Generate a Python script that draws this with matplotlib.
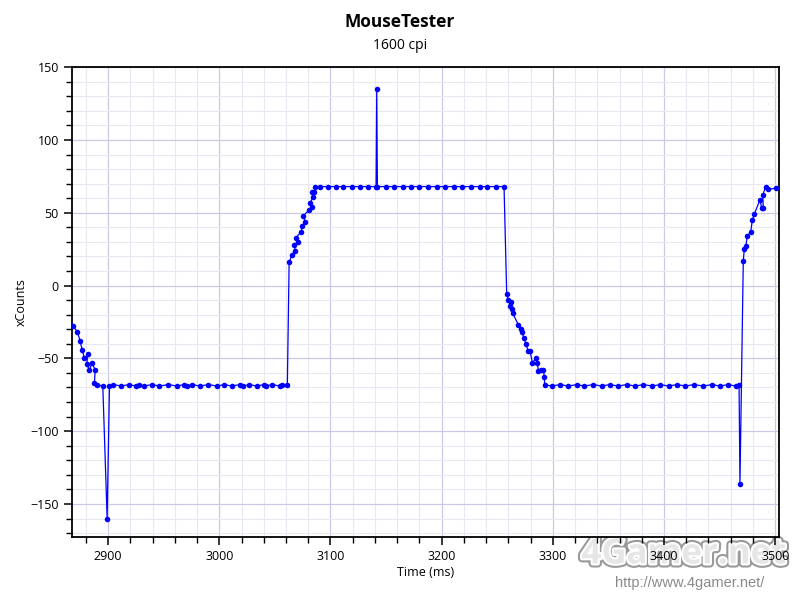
import matplotlib
matplotlib.use("Agg")
import matplotlib.pyplot as plt
import matplotlib.patheffects as pe
from matplotlib.ticker import MultipleLocator

plt.rcParams['font.family'] = ['Open Sans', 'DejaVu Sans']

# xCounts über Zeit (ms)
zeit = [
    2865.0, 2868.8, 2872.4, 2874.8, 2876.6, 2878.7, 2881.7, 2880.8, 2883.2, 2885.6,
    2888.3, 2887.7, 2889.8, 2895.2, 2899.1, 2901.2, 2904.8,
    2911.7, 2918.9, 2925.2, 2928.1, 2932.4, 2939.3, 2946.1, 2954.2, 2961.8, 2968.3,
    2971.3, 2975.5, 2982.7, 2990.2, 2997.7, 3004.6, 3011.2, 3018.7, 3021.7, 3026.8,
    3033.7, 3040.3, 3041.8, 3047.2, 3054.7, 3056.2, 3061.2,
    3062.8, 3065.2, 3068.2, 3067.3, 3070.6, 3069.1, 3073.6, 3074.7, 3077.2, 3075.6,
    3080.8, 3083.2, 3081.7, 3084.6, 3083.5, 3085.5, 3086.2,
    3090.6, 3098.1, 3104.8, 3111.6, 3119.2, 3126.6, 3133.6, 3141.0, 3141.6, 3142.2,
    3149.5, 3157.0, 3164.8, 3172.5, 3180.0, 3187.8, 3195.5, 3203.0, 3210.8, 3218.5,
    3226.0, 3234.5, 3241.1, 3248.6, 3256.1,
    3258.5, 3260.0, 3262.4, 3261.5, 3263.6, 3263.9, 3269.0, 3271.1, 3272.0, 3274.1,
    3275.6, 3278.0, 3279.5, 3281.6, 3284.9, 3286.1, 3287.0, 3289.4, 3291.5, 3292.4,
    3292.6, 3299.0,
    3306.5, 3314.0, 3321.5, 3328.0, 3336.4, 3343.8, 3351.3, 3358.9, 3366.4, 3374.0,
    3381.5, 3389.1, 3396.6, 3404.2, 3411.7, 3419.3, 3426.8, 3435.3, 3442.9, 3450.4,
    3457.8, 3464.5, 3467.5, 3468.3,
    3471.3, 3472.2, 3473.5, 3474.9, 3478.0, 3479.4, 3481.2, 3486.3, 3487.9, 3489.3,
    3488.8, 3491.4, 3493.8, 3500.7, 3508.0,
]
xcounts = [
    -22, -28, -32, -38, -44, -50, -47, -54, -58, -53,
    -58, -67, -68, -69, -160, -69, -68,
    -69, -68, -69, -68, -69, -68, -69, -68, -69, -68,
    -69, -68, -69, -68, -69, -68, -69, -68, -69, -68,
    -69, -68, -69, -68, -69, -68, -68,
    16, 21, 24, 28, 30, 33, 37, 41, 44, 48,
    52, 54, 57, 61, 64, 64, 68,
    68, 68, 68, 68, 68, 68, 68, 68, 135, 68,
    68, 68, 68, 68, 68, 68, 68, 68, 68, 68,
    68, 68, 68, 68, 68,
    -6, -10, -11, -14, -16, -19, -27, -30, -32, -36,
    -40, -45, -45, -53, -50, -53, -59, -58, -58, -63,
    -68, -69,
    -68, -69, -68, -69, -68, -69, -68, -69, -68, -69,
    -68, -69, -68, -69, -68, -69, -68, -69, -68, -69,
    -68, -69, -68, -136,
    17, 25, 27, 34, 37, 45, 49, 59, 53, 53,
    62, 68, 66, 67, 67,
]

fig = plt.figure(figsize=(8, 6), dpi=100)
ax = fig.add_axes([0.09, 0.105, 0.884, 0.783])

ax.plot(zeit, xcounts, color='#0000ff', linewidth=0.9, marker='o',
        markersize=4, markeredgewidth=0, zorder=3)

ax.set_xlim(2867.5, 3503.6)
ax.set_ylim(-172.7, 150)
ax.xaxis.set_major_locator(MultipleLocator(100))
ax.xaxis.set_minor_locator(MultipleLocator(20))
ax.yaxis.set_major_locator(MultipleLocator(50))
ax.yaxis.set_minor_locator(MultipleLocator(10))

ax.grid(which='major', color='#cacae6', linewidth=0.9)
ax.grid(which='minor', color='#e8e8f3', linewidth=0.8)
ax.set_axisbelow(True)

for s in ax.spines.values():
    s.set_linewidth(1.3)
ax.tick_params(which='major', direction='out', length=6, width=1.1, labelsize=9)
ax.tick_params(which='minor', direction='out', length=4, width=1.0)

ax.set_xlabel('Time (ms)', fontsize=9, labelpad=2)
ax.set_ylabel('xCounts', fontsize=9, labelpad=2)

fig.text(0.5, 0.963, 'MouseTester', ha='center', va='center',
         fontsize=12.5, fontweight='bold')
fig.text(0.5, 0.924, '1600 cpi', ha='center', va='center', fontsize=10)

# Wasserzeichen
logo = fig.text(0.855, 0.076, '4Gamer.net', ha='center', va='center',
                fontsize=25, fontweight='bold', color='#e6e6e6', zorder=-1)
logo.set_path_effects([pe.Stroke(linewidth=6, foreground='#9a9a9a'),
                       pe.Stroke(linewidth=3, foreground='white'),
                       pe.Normal()])
fig.text(0.862, 0.028, 'http://www.4gamer.net/', ha='center', va='center',
         fontsize=10.5, color='#8a8a8a', family=['Liberation Sans', 'DejaVu Sans'],
         zorder=-1)

fig.savefig('out.png', dpi=100)
